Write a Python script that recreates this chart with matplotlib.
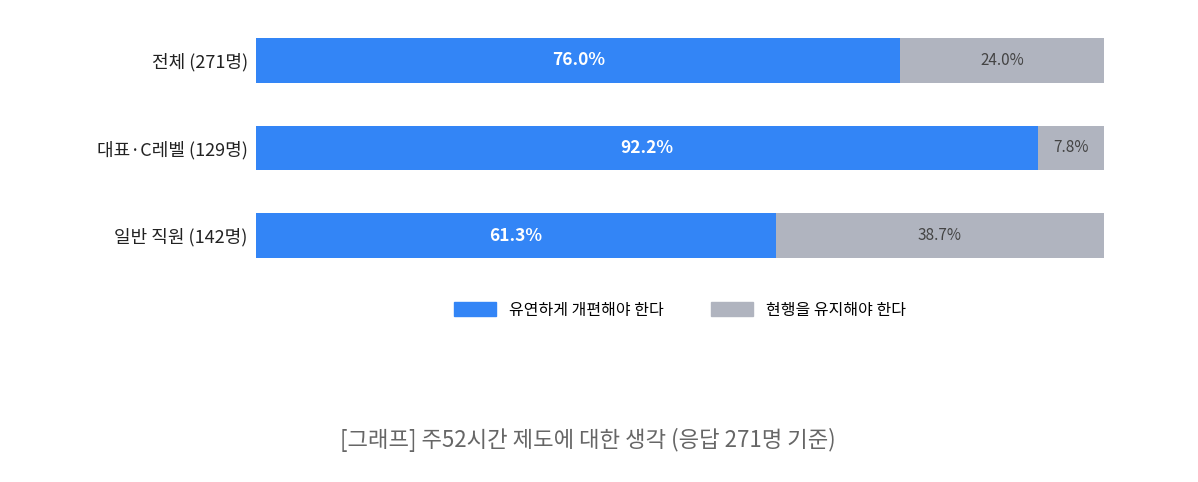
import matplotlib.pyplot as plt
from matplotlib.patches import Patch

plt.rcParams['font.family'] = ['Noto Sans CJK KR', 'DejaVu Sans']

# data
groups = ['전체 (271명)', '대표·C레벨 (129명)', '일반 직원 (142명)']
reform = [76.0, 92.2, 61.3]
keep = [24.0, 7.8, 38.7]
series_names = ['유연하게 개편해야 한다', '현행을 유지해야 한다']

blue = '#3385f6'
gray = '#b0b4bf'

fig = plt.figure(figsize=(11.98, 4.82), dpi=100)
ax = fig.add_axes([256/1198, 1-258/482, 848/1198, 220/482])

y = list(range(len(groups)))
ax.barh(y, reform, height=0.51, color=blue)
ax.barh(y, keep, left=reform, height=0.51, color=gray)

for i in y:
    ax.text(reform[i] / 2, i, f'{reform[i]:.1f}%', ha='center', va='center',
            color='white', fontsize=12.5, fontweight='bold')
    ax.text(reform[i] + keep[i] / 2, i, f'{keep[i]:.1f}%', ha='center', va='center',
            color='#444444', fontsize=11)

ax.set_xlim(0, 100)
ax.set_ylim(2.255, -0.255)
ax.set_yticks(y)
ax.set_yticklabels(groups, fontsize=13, color='#222222')
ax.tick_params(axis='y', length=0, pad=6)
ax.set_xticks([])
for s in ax.spines.values():
    s.set_visible(False)

handles = [Patch(color=blue), Patch(color=gray)]
fig.legend(handles, series_names, loc='center', bbox_to_anchor=(680/1198, 1-310/482),
           ncol=2, frameon=False, fontsize=11.5, handlelength=2.6, handleheight=0.9,
           columnspacing=3.0)

fig.text(588/1198, 1-440/482, '[그래프] 주52시간 제도에 대한 생각 (응답 271명 기준)',
         ha='center', va='center', fontsize=16, color='#666666')

fig.savefig('out.png', dpi=100)
